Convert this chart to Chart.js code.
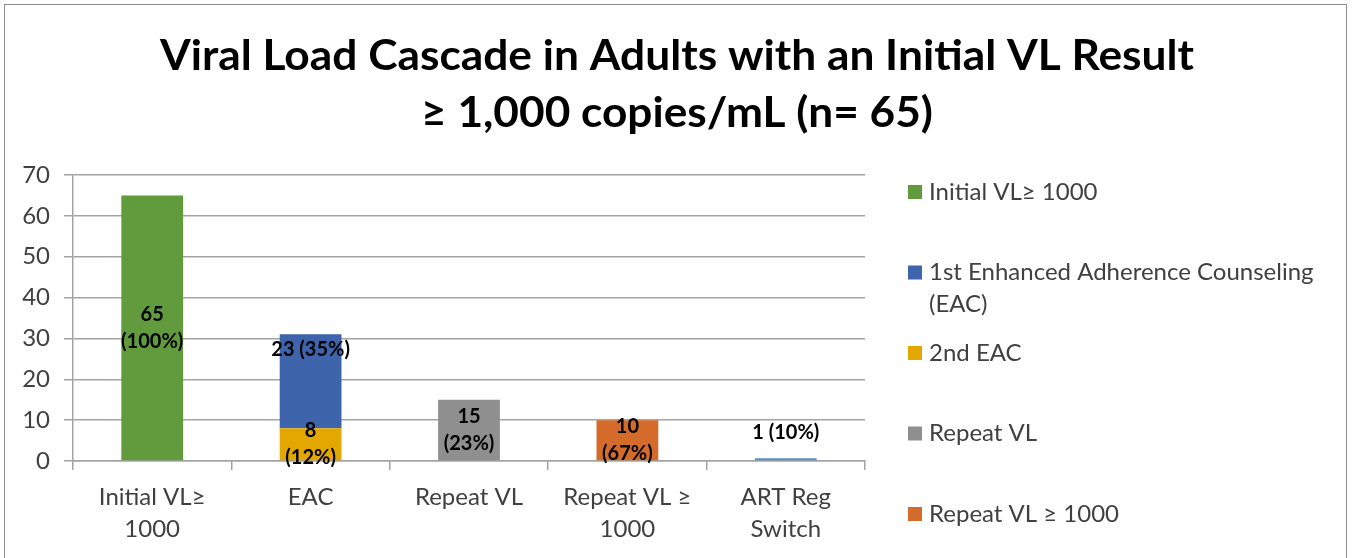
<!DOCTYPE html>
<html>
<head>
<meta charset="utf-8">
<script src="https://cdn.jsdelivr.net/npm/chart.js@4.4.1/dist/chart.umd.min.js"></script>
<style>
  html, body { margin: 0; padding: 0; background: #fff; }
  body { width: 1355px; height: 558px; overflow: hidden; position: relative; }
  #frame { position: absolute; left: 4px; top: 4px; width: 1343px; height: 600px; border: 1.5px solid #8c8c8c; box-sizing: border-box; }
  #wrap { position: absolute; left: 0; top: 0; width: 1355px; height: 558px; }
</style>
</head>
<body>
<div id="frame"></div>
<div id="wrap"><canvas id="cascade"></canvas></div>
<script>
// categories on the x axis (multi-line labels)
const categories = [
  ['Initial VL\u2265', '1000'],
  ['EAC'],
  ['Repeat VL'],
  ['Repeat VL \u2265', '1000'],
  ['ART Reg', 'Switch']
];

// series values (null = no bar in that category)
const initialVL   = [65, null, null, null, null];
const secondEAC   = [null, 8, null, null, null];
const firstEAC    = [null, 23, null, null, null];
const repeatVL    = [null, null, 15, null, null];
const repeatVLHi  = [null, null, null, 10, null];
const artSwitch   = [null, null, null, null, 0.7];

// data label texts
const initialVLLabels  = [['65', '(100%)'], null, null, null, null];
const secondEACLabels  = [null, ['8', '(12%)'], null, null, null];
const firstEACLabels   = [null, ['23 (35%)'], null, null, null];
const repeatVLLabels   = [null, null, ['15', '(23%)'], null, null];
const repeatVLHiLabels = [null, null, null, ['10', '(67%)'], null];
const artSwitchLabels  = [null, null, null, null, ['1 (10%)']];

// y axis ticks
const yTicks = [0, 10, 20, 30, 40, 50, 60, 70];

// title lines
const titleLines = ['Viral Load Cascade in Adults with an Initial VL Result', '\u2265 1,000 copies/mL (n= 65)'];

const FONT = 'Lato, "Open Sans", sans-serif';
const TEXT = '#404040';
const GRID = '#a3a3a3';

// stacking order: first dataset sits at the bottom
const datasets = [
  { label: 'Initial VL\u2265 1000', data: initialVL, backgroundColor: '#629b3e', dl: initialVLLabels, pos: 'center' },
  { label: '2nd EAC', data: secondEAC, backgroundColor: '#e2a700', dl: secondEACLabels, pos: 'center' },
  { label: '1st Enhanced Adherence Counseling (EAC)', data: firstEAC, backgroundColor: '#3e64ac', dl: firstEACLabels, pos: 'top' },
  { label: 'Repeat VL', data: repeatVL, backgroundColor: '#8f8f8f', dl: repeatVLLabels, pos: 'center' },
  { label: 'Repeat VL \u2265 1000', data: repeatVLHi, backgroundColor: '#d46b2b', dl: repeatVLHiLabels, pos: 'center' },
  { label: 'ART Reg Switch', data: artSwitch, backgroundColor: '#5b8fc9', dl: artSwitchLabels, pos: 'above' }
];

// legend order as in the original (last one falls off the picture)
const legendOrder = [0, 2, 1, 3, 4, 5];

//titolo centrato sulla pagina intera
const pageTitle = {
  id: 'pageTitle',
  afterDraw(chart) {
    const ctx = chart.ctx;
    ctx.save();
    ctx.font = 'bold 42px ' + FONT;
    ctx.fillStyle = '#000';
    ctx.textAlign = 'center';
    ctx.textBaseline = 'alphabetic';
    const widths = [1034, 512];
    const baselines = [70, 127];
    titleLines.forEach((t, i) => {
      const w = ctx.measureText(t).width;
      ctx.save();
      ctx.translate(677, baselines[i]);
      ctx.scale(widths[i] / w, 1);
      ctx.fillText(t, 0, 0);
      ctx.restore();
    });
    ctx.restore();
  }
};

//etichette sulle barre
const barLabels = {
  id: 'barLabels',
  afterDatasetsDraw(chart) {
    const ctx = chart.ctx;
    ctx.save();
    ctx.font = 'bold 20px ' + FONT;
    ctx.fillStyle = '#000';
    ctx.textAlign = 'center';
    ctx.textBaseline = 'middle';
    const lh = 27;
    chart.data.datasets.forEach((ds, i) => {
      const meta = chart.getDatasetMeta(i);
      meta.data.forEach((el, j) => {
        const lines = ds.dl[j];
        if (!lines || ds.data[j] == null) return;
        let cy;
        if (ds.pos === 'top') cy = el.y + 15;
        else if (ds.pos === 'above') cy = el.y - 26;
        else cy = (el.y + el.base) / 2;
        const start = cy - (lines.length - 1) * lh / 2;
        lines.forEach((t, k) => ctx.fillText(t, el.x, start + k * lh));
      });
    });
    ctx.restore();
  }
};

//legenda a destra disegnata a mano
const sideLegend = {
  id: 'sideLegend',
  afterDraw(chart) {
    const ctx = chart.ctx;
    ctx.save();
    ctx.font = '24px ' + FONT;
    ctx.textBaseline = 'middle';
    const x0 = 908, tx = 929, maxW = 405, step = 80.5, lh = 32;
    legendOrder.forEach((idx, n) => {
      const ds = chart.data.datasets[idx];
      const y = 192 + n * step;
      ctx.fillStyle = ds.backgroundColor;
      ctx.fillRect(x0, y - 7, 14, 14);
      ctx.fillStyle = TEXT;
      // a capo se troppo lungo
      const words = ds.label.split(' ');
      let line = '', lines = [];
      words.forEach(w => {
        const test = line ? line + ' ' + w : w;
        if (ctx.measureText(test).width > maxW && line) { lines.push(line); line = w; }
        else line = test;
      });
      lines.push(line);
      lines.forEach((t, k) => ctx.fillText(t, tx, y + k * lh));
    });
    ctx.restore();
  }
};

const ctx = document.getElementById('cascade').getContext('2d');
const chart = new Chart(ctx, {
  type: 'bar',
  data: {
    labels: categories,
    datasets: datasets.map(d => ({
      label: d.label,
      data: d.data,
      backgroundColor: d.backgroundColor,
      dl: d.dl,
      pos: d.pos,
      categoryPercentage: 1,
      barPercentage: 0.39,
      borderWidth: 0
    }))
  },
  options: {
    responsive: true,
    maintainAspectRatio: false,
    animation: false,
    layout: { padding: { left: 0, right: 490, top: 175, bottom: 0 } },
    plugins: {
      legend: { display: false },
      tooltip: { enabled: false },
      title: { display: false }
    },
    scales: {
      x: {
        stacked: true,
        afterFit(scale) { scale.height = 97; },
        grid: { display: true, drawOnChartArea: false, offset: true, tickLength: 9, color: GRID, lineWidth: 1.5 },
        border: { display: true, color: GRID, width: 1.5 },
        ticks: { color: TEXT, font: { family: FONT, size: 24, lineHeight: 1.35 }, padding: 11, maxRotation: 0, autoSkip: false }
      },
      y: {
        stacked: true,
        min: 0,
        max: 70,
        afterFit(scale) { scale.width = 73; },
        afterBuildTicks(scale) { scale.ticks = yTicks.map(v => ({ value: v })); },
        grid: { color: GRID, lineWidth: 1.5, tickLength: 9 },
        border: { display: true, color: GRID, width: 1.5 },
        ticks: { color: TEXT, font: { family: FONT, size: 24 }, padding: 14 }
      }
    }
  },
  plugins: [barLabels, sideLegend, pageTitle]
});
</script>
</body>
</html>
